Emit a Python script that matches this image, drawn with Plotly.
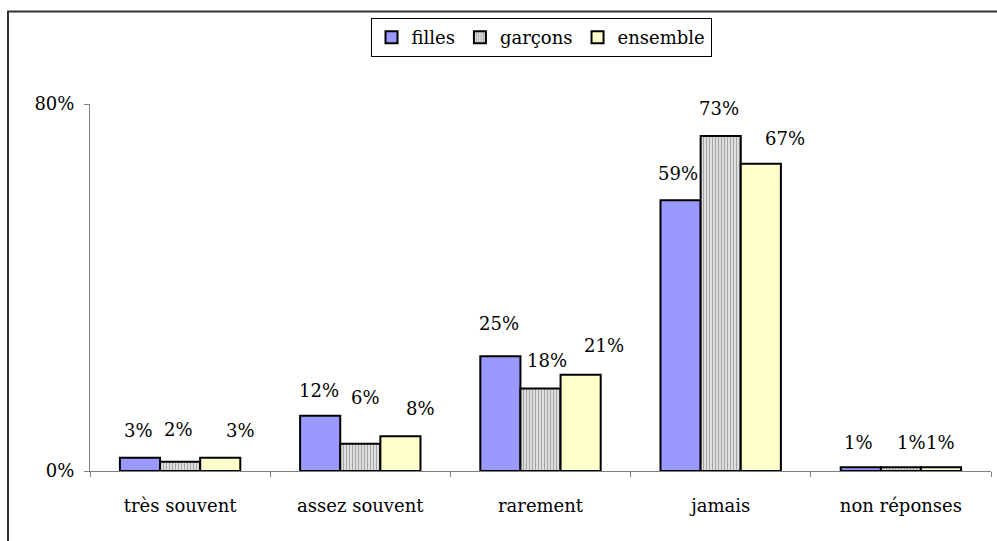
import plotly.graph_objects as go

# ---- data ----
categories = ["très souvent", "assez souvent", "rarement", "jamais", "non réponses"]
series_names = ["filles", "garçons", "ensemble"]
filles = [2.9, 12.05, 25, 59, 0.8]
garcons = [2.0, 5.95, 18, 73, 0.8]
ensemble = [2.9, 7.6, 21, 67, 0.8]
y_tick_values = [0, 80]
y_tick_labels = ["0%", "80%"]

# ---- styles ----
FONT = "DejaVu Serif"
FS = 18
W, H = 997, 541
L, R, T, B = 90, 6, 104, 70
BARGAP = 0.332
# per-label pixel nudges (dx, dy) relative to bar centre / bar top
nudges = {
    "filles":   [(-1, 27), (-1, 25), (-1, 33), (-3, 27), (-2, 25)],
    "garçons":  [(-2, 32), (5, 46), (6, 28), (-2, 28), (11, 25)],
    "ensemble": [(20, 27), (20, 28), (23, 29), (24, 25), (-1, 25)],
}

fig = go.Figure()
fig.add_trace(go.Bar(name="filles", x=categories, y=filles,
                     marker=dict(color="#9999FF", line=dict(color="black", width=2))))
fig.add_trace(go.Bar(name="garçons", x=categories, y=garcons,
                     marker=dict(color="white", line=dict(color="black", width=2),
                                 pattern=dict(shape="|", size=3, solidity=0.5,
                                              fgcolor="#5a5a5a", bgcolor="#f0f0f0"))))
fig.add_trace(go.Bar(name="ensemble", x=categories, y=ensemble,
                     marker=dict(color="#FFFFCC", line=dict(color="black", width=2))))

bw = (1 - BARGAP) / 3
offsets = [-bw, 0, bw]
for s_idx, (name, vals) in enumerate(zip(series_names, [filles, garcons, ensemble])):
    for i, v in enumerate(vals):
        dx, dy = nudges[name][i]
        fig.add_annotation(x=i + offsets[s_idx], y=v, xref="x", yref="y",
                           text=f"{round(v)}%", showarrow=False,
                           xanchor="center", yanchor="middle",
                           xshift=dx, yshift=dy,
                           font=dict(family=FONT, size=FS, color="black"))

pw = W - L - R
ph = H - T - B
# outer chart border (top and left visible, rest beyond window)
fig.add_shape(type="rect", xref="paper", yref="paper",
              x0=(8 - L) / pw, x1=(W + 20 - L) / pw,
              y0=(H - B - (H + 20)) / ph, y1=(H - B - 11.5) / ph,
              line=dict(color="#333333", width=2), fillcolor="rgba(0,0,0,0)")

fig.update_layout(
    width=W, height=H,
    margin=dict(l=L, r=R, t=T, b=B),
    paper_bgcolor="white", plot_bgcolor="white",
    barmode="group", bargap=BARGAP, bargroupgap=0,
    font=dict(family=FONT, size=FS, color="black"),
    showlegend=True,
    legend=dict(orientation="h", x=(541 - L) / pw, y=(H - B - 18) / ph,
                xanchor="center", yanchor="top",
                bordercolor="black", borderwidth=1, bgcolor="white",
                font=dict(family=FONT, size=FS), itemwidth=30,
                tracegroupgap=0),
    xaxis=dict(showline=True, linecolor="#808080", linewidth=1,
               ticks="outside", tickson="boundaries", ticklen=5, tickcolor="#808080",
               showgrid=False, zeroline=False, ticklabelstandoff=18),
    yaxis=dict(range=[0, 80], tickvals=y_tick_values, ticktext=y_tick_labels,
               showline=True, linecolor="#808080", linewidth=1,
               ticks="outside", ticklen=5, tickcolor="#808080",
               showgrid=False, zeroline=False, ticklabelstandoff=6),
)

fig.write_html("out.html", config={"displayModeBar": False},
               post_script="document.body.style.margin='0';document.body.style.overflow='hidden';")
